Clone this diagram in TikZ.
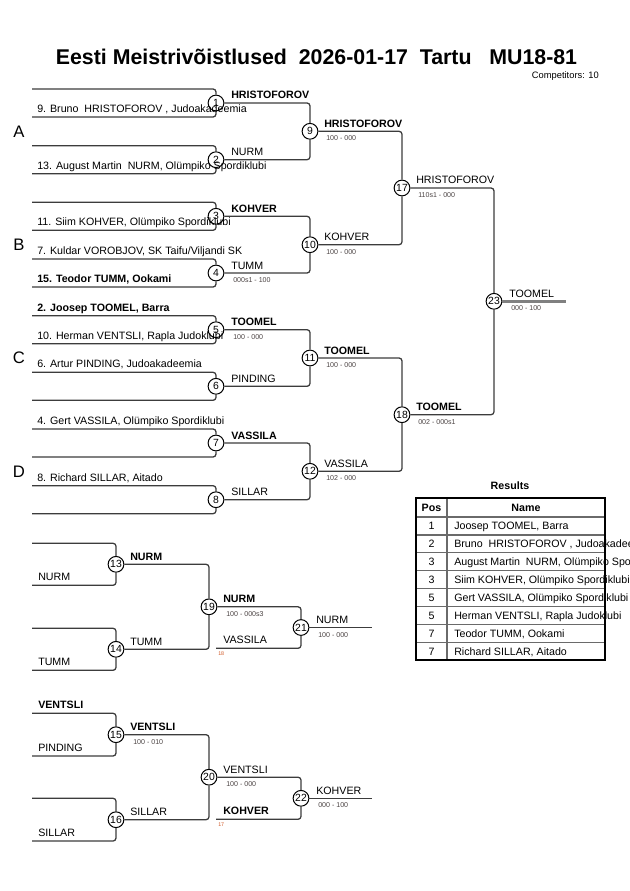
\documentclass[tikz,border=0pt]{standalone}
\usepackage{fontspec}
\setmainfont{Liberation Sans}
\definecolor{lncol}{HTML}{3C3C3C}
\definecolor{sccol}{HTML}{4A4242}
\definecolor{tagcol}{HTML}{D05A28}
\definecolor{fincol}{HTML}{808080}
\definecolor{gridcol}{HTML}{6A6A6A}
\begin{document}
\begin{tikzpicture}[x=0.75pt,y=-0.75pt,
  ln/.style={draw=lncol,line width=0.95pt,rounded corners=2.2pt},
  finln/.style={draw=fincol,line width=1.8pt},
  mc/.style={circle,draw=black,line width=0.75pt,minimum size=11.8pt,inner sep=0pt,font=\fontsize{7.8}{8}\selectfont},
  ent/.style={anchor=base west,inner sep=0pt,font=\fontsize{8}{9}\selectfont},
  entb/.style={anchor=base west,inner sep=0pt,font=\fontsize{8}{9}\selectfont\bfseries},
  sc/.style={anchor=base west,inner sep=0pt,font=\fontsize{5.3}{6}\selectfont,text=sccol},
  tag/.style={anchor=base west,inner sep=0pt,font=\fontsize{4}{5}\selectfont,text=tagcol},
  grp/.style={inner sep=0pt,font=\fontsize{12.5}{14}\selectfont},
  tcell/.style={inner sep=0pt,font=\fontsize{8}{9}\selectfont},
]
\useasboundingbox (0,0) rectangle (630,891);

% title
\node[inner sep=0pt,font=\fontsize{16}{18}\selectfont\bfseries] (title) at (316.5,57)
  {Eesti Meistrivõistlused\ \ 2026-01-17\ \ Tartu\ \ \ MU18-81};
\node[anchor=base east,inner sep=0pt,font=\fontsize{7}{8}\selectfont] (comp) at (599,79) {Competitors: 10};

% group letters
\node[grp] (gA) at (19,131.3) {A};
\node[grp] (gB) at (19,244.7) {B};
\node[grp] (gC) at (19,358) {C};
\node[grp] (gD) at (19,471.3) {D};

% round 1
\foreach \i/\y in {1/103,2/159.7,3/216.3,4/273,5/329.7,6/386.3,7/443,8/499.7}{
  \node[mc] (m\i) at (216,\y) {\i};
  \coordinate (t\i) at (32,{\y-14});
  \coordinate (b\i) at (32,{\y+14});
  \draw[ln] (t\i) -| (m\i);
  \draw[ln] (b\i) -| (m\i);
}
% round 2
\node[mc] (m9) at (310,131.3) {9};
\node[mc] (m10) at (310,244.7) {10};
\node[mc] (m11) at (310,358) {11};
\node[mc] (m12) at (310,471.3) {12};
\draw[ln] (m1) -| (m9);
\draw[ln] (m2) -| (m9);
\draw[ln] (m3) -| (m10);
\draw[ln] (m4) -| (m10);
\draw[ln] (m5) -| (m11);
\draw[ln] (m6) -| (m11);
\draw[ln] (m7) -| (m12);
\draw[ln] (m8) -| (m12);
% semifinals
\node[mc] (m17) at (402,188) {17};
\node[mc] (m18) at (402,414.7) {18};
\draw[ln] (m9) -| (m17);
\draw[ln] (m10) -| (m17);
\draw[ln] (m11) -| (m18);
\draw[ln] (m12) -| (m18);
% final
\node[mc] (m23) at (494,301.3) {23};
\draw[ln] (m17) -| (m23);
\draw[ln] (m18) -| (m23);
\coordinate (f23) at (566,301.3);
\draw[finln] (m23) -- (f23);

% entry names
\node[ent] (n1) at (37,112.5) {9. Bruno\ \ HRISTOFOROV , Judoakadeemia};
\node[ent] (n2) at (37,169.2) {13. August Martin\ \ NURM, Olümpiko Spordiklubi};
\node[ent] (n3) at (37,225.8) {11. Siim KOHVER, Olümpiko Spordiklubi};
\node[ent] (n4) at (37,254.5) {7. Kuldar VOROBJOV, SK Taifu/Viljandi SK};
\node[entb] (n5) at (37,282.5) {15. Teodor TUMM, Ookami};
\node[entb] (n6) at (37,311.2) {2. Joosep TOOMEL, Barra};
\node[ent] (n7) at (37,339.2) {10. Herman VENTSLI, Rapla Judoklubi};
\node[ent] (n8) at (37,367.8) {6. Artur PINDING, Judoakadeemia};
\node[ent] (n9) at (37,424.5) {4. Gert VASSILA, Olümpiko Spordiklubi};
\node[ent] (n10) at (37,481.2) {8. Richard SILLAR, Aitado};

% winner labels round 1
\node[entb] (w1) at (231,99) {HRISTOFOROV};
\node[ent] (w2) at (231,155.7) {NURM};
\node[entb] (w3) at (231,212.3) {KOHVER};
\node[ent] (w4) at (231,269) {TUMM};
\node[sc] (s4) at (233,282.5) {000s1 - 100};
\node[entb] (w5) at (231,325.7) {TOOMEL};
\node[sc] (s5) at (233,339.2) {100 - 000};
\node[ent] (w6) at (231,382.3) {PINDING};
\node[entb] (w7) at (231,439) {VASSILA};
\node[ent] (w8) at (231,495.7) {SILLAR};
% round 2 labels
\node[entb] (w9) at (324,127.3) {HRISTOFOROV};
\node[sc] (s9) at (326,140.8) {100 - 000};
\node[ent] (w10) at (324,240.7) {KOHVER};
\node[sc] (s10) at (326,254.2) {100 - 000};
\node[entb] (w11) at (324,354) {TOOMEL};
\node[sc] (s11) at (326,367.5) {100 - 000};
\node[ent] (w12) at (324,467.3) {VASSILA};
\node[sc] (s12) at (326,480.8) {102 - 000};
\node[ent] (w17) at (416,184) {HRISTOFOROV};
\node[sc] (s17) at (418,197.5) {110s1 - 000};
\node[entb] (w18) at (416,410.7) {TOOMEL};
\node[sc] (s18) at (418,424.2) {002 - 000s1};
\node[ent] (w23) at (509,297.3) {TOOMEL};
\node[sc] (s23) at (511,310.8) {000 - 100};

% repechage
\node[mc] (m13) at (116,564.3) {13};
\node[mc] (m14) at (116,649.3) {14};
\node[mc] (m15) at (116,734.7) {15};
\node[mc] (m16) at (116,819.7) {16};
\coordinate (t13) at (32,543.3); \coordinate (b13) at (32,585.3);
\coordinate (t14) at (32,628.3); \coordinate (b14) at (32,670.3);
\coordinate (t15) at (32,713.3); \coordinate (b15) at (32,756);
\coordinate (t16) at (32,798.3); \coordinate (b16) at (32,841);
\foreach \i in {13,14,15,16}{
  \draw[ln] (t\i) -| (m\i);
  \draw[ln] (b\i) -| (m\i);
}
\node[mc] (m19) at (209,606.8) {19};
\node[mc] (m20) at (209,777.2) {20};
\draw[ln] (m13) -| (m19);
\draw[ln] (m14) -| (m19);
\draw[ln] (m15) -| (m20);
\draw[ln] (m16) -| (m20);
\node[mc] (m21) at (301,627.5) {21};
\node[mc] (m22) at (301,798.3) {22};
\coordinate (r18) at (216,648.3);
\coordinate (r17) at (216,819.3);
\draw[ln] (m19) -| (m21);
\draw[ln] (r18) -| (m21);
\draw[ln] (m20) -| (m22);
\draw[ln] (r17) -| (m22);
\coordinate (f21) at (372,627.5);
\coordinate (f22) at (372,798.3);
\draw[ln] (m21) -- (f21);
\draw[ln] (m22) -- (f22);

\node[ent] (e13) at (38,580.8) {NURM};
\node[ent] (e14) at (38,665.8) {TUMM};
\node[entb] (e15) at (38,708.8) {VENTSLI};
\node[ent] (e16) at (38,751.5) {PINDING};
\node[ent] (e17) at (38,836.5) {SILLAR};
\node[entb] (w13) at (130,560.3) {NURM};
\node[ent] (w14) at (130,645.3) {TUMM};
\node[entb] (w15) at (130,730.7) {VENTSLI};
\node[sc] (s15) at (133,744.2) {100 - 010};
\node[ent] (w16) at (130,815.7) {SILLAR};
\node[entb] (w19) at (223,602.8) {NURM};
\node[sc] (s19) at (226,616.3) {100 - 000s3};
\node[ent] (v18) at (223,643.8) {VASSILA};
\node[tag] (g18) at (218,655) {18};
\node[ent] (w20) at (223,773.2) {VENTSLI};
\node[sc] (s20) at (226,786.7) {100 - 000};
\node[entb] (v17) at (223,814.8) {KOHVER};
\node[tag] (g17) at (218,826) {17};
\node[ent] (w21) at (316,623.5) {NURM};
\node[sc] (s21) at (318,637) {100 - 000};
\node[ent] (w22) at (316,794.3) {KOHVER};
\node[sc] (s22) at (318,807.8) {000 - 100};

% results table
\node[inner sep=0pt,font=\fontsize{8}{9}\selectfont\bfseries] (rtitle) at (510,486) {Results};
\node[tcell,anchor=base,font=\fontsize{8}{9}\selectfont\bfseries] (hpos) at (431.5,511.5) {Pos};
\node[tcell,anchor=base,font=\fontsize{8}{9}\selectfont\bfseries] (hname) at (526,511.5) {Name};
\foreach \k/\p/\nm in {
  1/1/{Joosep TOOMEL, Barra},
  2/2/{Bruno\ \ HRISTOFOROV , Judoakadeemia},
  3/3/{August Martin\ \ NURM, Olümpiko Spordiklubi},
  4/3/{Siim KOHVER, Olümpiko Spordiklubi},
  5/5/{Gert VASSILA, Olümpiko Spordiklubi},
  6/5/{Herman VENTSLI, Rapla Judoklubi},
  7/7/{Teodor TUMM, Ookami},
  8/7/{Richard SILLAR, Aitado}}{
  \node[tcell,anchor=base] (rp\k) at (431.5,{517+17.9*(\k-0.5)+3.8}) {\p};
  \node[tcell,anchor=base west] (rn\k) at (454,{517+17.9*(\k-0.5)+3.8}) {\nm};
}
\foreach \k in {0,...,7}{
  \draw[gridcol,line width=1pt] (416,{517+17.9*\k}) -- (605,{517+17.9*\k});
}
\draw[gridcol,line width=1pt] (447,498.3) -- (447,660);
\draw[black,line width=1.5pt] (416,498.3) rectangle (605,660);
\end{tikzpicture}
\end{document}
